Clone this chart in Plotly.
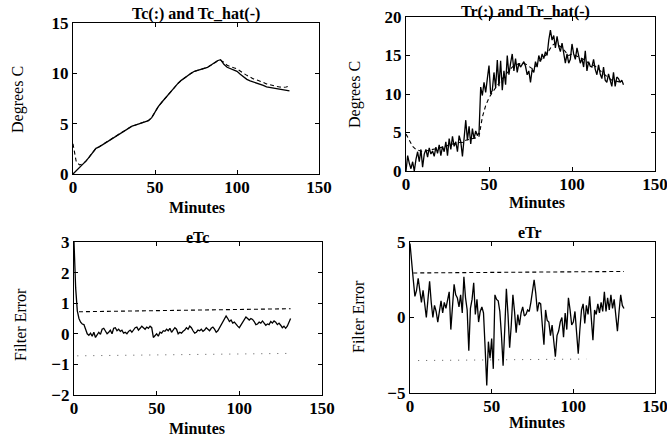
import plotly.graph_objects as go

# ---------------- data ----------------
minutes = list(range(0, 132))          # 1-minute samples
minutes2 = list(range(0, 134, 2))      # 2-minute samples

Tc = [0.0, 0.3, 0.6, 0.9, 1.3, 1.7, 2.1, 2.55, 2.7, 2.9, 3.1, 3.3, 3.5, 3.7, 3.9, 4.1, 4.3,
      4.55, 4.75, 4.85, 4.95, 5.05, 5.15, 5.3, 5.6, 6.2, 6.7, 7.1, 7.5, 7.9, 8.3, 8.7, 9.0,
      9.3, 9.55, 9.75, 10.0, 10.2, 10.3, 10.35, 10.45, 10.6, 10.8, 11.0, 11.25, 11.35, 10.9,
      10.6, 10.45, 10.3, 10.2, 9.9, 9.6, 9.4, 9.25, 9.15, 9.05, 8.95, 8.8, 8.65, 8.6, 8.55,
      8.5, 8.45, 8.4, 8.3, 8.25]
Tc_hat = [3.0, 1.2, 0.9, 1.0, 1.3, 1.75, 2.15, 2.55, 2.72, 2.92, 3.12, 3.32, 3.52, 3.72, 3.92,
          4.12, 4.32, 4.57, 4.77, 4.87, 4.97, 5.07, 5.17, 5.32, 5.6, 6.2, 6.7, 7.1, 7.5, 7.9,
          8.3, 8.7, 9.0, 9.3, 9.55, 9.75, 10.0, 10.2, 10.3, 10.35, 10.45, 10.6, 10.8, 11.0,
          11.2, 11.3, 11.1, 10.8, 10.65, 10.55, 10.45, 10.2, 10.0, 9.8, 9.6, 9.45, 9.35, 9.25,
          9.1, 8.95, 8.85, 8.75, 8.7, 8.65, 8.6, 8.65, 8.75]

Tr = [0.0, 2.0, 1.0, 0.3, 1.2, 0.0, 1.5, 2.5, 1.2, 2.8, 0.5, 2.2, 2.8, 1.8, 3.0, 2.2, 2.6,
      1.9, 3.1, 2.3, 3.4, 2.0, 3.2, 2.5, 3.8, 2.0, 4.2, 2.8, 4.5, 3.2, 3.8, 2.5, 4.6, 3.8,
      1.9, 4.2, 6.6, 4.0, 5.8, 3.5, 5.5, 4.2, 5.2, 4.6, 5.0, 10.9, 9.8, 11.5, 10.2, 12.0,
      13.7, 10.0, 10.5, 12.8, 10.8, 14.4, 11.0, 14.3, 10.5, 13.0, 11.2, 15.0, 12.5, 14.0,
      15.2, 13.0, 14.6, 12.8, 14.0, 13.5, 13.8, 14.2, 13.6, 12.5, 13.0, 11.5, 13.2, 12.8,
      14.2, 13.5, 15.0, 14.2, 15.2, 14.6, 15.5, 15.0, 17.0, 18.3, 17.0, 17.6, 16.0, 17.5,
      16.2, 15.5, 16.6, 15.0, 14.0, 15.2, 14.0, 14.5, 16.5, 15.2, 14.5, 16.0, 14.8, 14.0,
      14.6, 13.5, 15.6, 13.0, 14.2, 13.6, 13.5, 14.5, 13.2, 12.5, 13.8, 12.6, 12.0, 13.5,
      11.8, 11.5, 12.6, 11.8, 11.0, 12.8, 11.0, 12.2, 12.0, 11.5, 11.8, 11.2]
Tr_hat = [4.8, 3.9, 3.2, 2.8, 2.6, 2.5, 2.6, 2.7, 2.8, 2.9, 3.0, 3.1, 3.2, 3.4, 3.5, 3.6, 3.7,
          3.7, 4.0, 4.1, 4.2, 4.3, 4.5, 7.0, 8.5, 9.5, 10.2, 10.8, 11.5, 12.0, 12.5, 13.0,
          13.5, 13.8, 13.9, 14.0, 13.9, 13.6, 13.3, 13.6, 14.2, 14.6, 15.0, 15.6, 16.3, 16.6,
          16.3, 16.0, 15.5, 15.0, 15.2, 15.0, 14.8, 14.5, 14.4, 14.0, 13.8, 13.6, 13.2, 12.8,
          12.4, 12.1, 11.8, 11.7, 11.6, 11.5]

eTc = [3.0, 1.5, 0.75, 0.5, 0.38, 0.32, 0.3, 0.15, 0.0, -0.05, 0.02, -0.08, 0.05, -0.12, -0.05,
       0.05, -0.02, 0.15, 0.18, 0.1, 0.0, 0.05, 0.12, 0.0, 0.18, 0.2, 0.1, 0.15, 0.08, 0.12,
       0.02, 0.05, 0.0, 0.08, 0.12, 0.05, 0.15, 0.2, 0.22, 0.12, 0.18, 0.25, 0.2, 0.15, 0.22,
       0.18, 0.25, 0.2, -0.12, -0.05, 0.0, -0.08, 0.05, 0.02, 0.1, 0.08, 0.15, 0.1, 0.18, 0.05,
       0.12, 0.2, 0.15, 0.0, 0.05, 0.02, 0.08, 0.12, 0.2, 0.15, 0.25, 0.2, 0.1, 0.02, 0.05,
       0.12, 0.1, 0.15, 0.08, 0.12, 0.2, 0.15, 0.1, 0.18, 0.22, 0.15, 0.05, 0.1, 0.2, 0.3, 0.4,
       0.5, 0.58, 0.5, 0.4, 0.45, 0.35, 0.38, 0.3, 0.25, 0.2, 0.3, 0.4, 0.5, 0.55, 0.5, 0.45,
       0.5, 0.47, 0.4, 0.3, 0.32, 0.38, 0.35, 0.42, 0.35, 0.28, 0.32, 0.3, 0.4, 0.35, 0.42,
       0.38, 0.3, 0.35, 0.28, 0.2, 0.25, 0.18, 0.25, 0.35, 0.5]
eTc_upper_t = [3, 131]
eTc_upper = [0.72, 0.82]
eTc_lower_t = [2, 131]
eTc_lower = [-0.72, -0.64]

eTr = [4.9, 3.5, 2.5, 1.4, 1.8, 2.6, 1.6, 1.0, 1.8, 0.8, 0.0, 1.2, 2.4, 1.0, 0.0, 0.8, 0.4,
       -0.3, 0.5, 1.1, 0.3, 1.0, 0.6, 1.3, 1.7, -0.8, 0.8, 2.2, 1.5, 1.3, 0.7, 1.5, 0.3, 2.7,
       1.3, 0.5, -2.2, 0.6, 1.2, 2.3, 0.2, 1.2, -0.3, 0.4, 0.7, 0.3, -2.0, -4.5, -1.6, -2.7,
       -1.4, -3.4, 1.5, 1.2, 1.1, 0.4, -1.2, -3.2, -0.8, 1.9, 0.2, -2.0, -0.5, 1.5, 0.4, -1.0,
       0.2, -0.5, 0.3, 0.7, 0.1, 0.2, 0.5, 0.4, 1.0, 1.7, 2.5, 1.6, 0.4, 1.0, 0.9, -0.5, -1.8,
       0.5, -0.2, -0.3, -1.2, -0.5, -1.8, -2.6, -1.2, -0.9, -0.3, 0.0, -1.3, 0.3, -0.8, 1.3,
       0.5, -0.5, -0.3, 0.4, -1.0, -2.4, -0.8, 0.5, 0.9, -0.4, 0.8, 0.2, 1.4, 0.0, -1.5, 0.5,
       0.2, 0.9, 0.3, 1.0, 0.4, 1.7, 0.4, 1.3, 0.5, 1.5, 0.6, 1.2, 0.3, -0.9, 0.4, 1.5, 0.8,
       0.6]
eTr_upper_t = [2, 131]
eTr_upper = [2.95, 3.05]
eTr_lower_t = [5, 108]
eTr_lower = [-2.85, -2.75]

titles = ["Tc(:) and Tc_hat(-)", "Tr(:) and Tr_hat(-)", "eTc", "eTr"]
xtitle = "Minutes"
ytitles = ["Degrees C", "Degrees C", "Filter Error", "Filter Error"]

# ---------------- figure ----------------
FONT = "Liberation Serif"
fig = go.Figure()
solid = dict(color="black", width=1.3)
dashed = dict(color="black", width=1.1, dash="4px,3px")
dotted = dict(color="#555555", width=1.0, dash="1px,7px")

fig.add_trace(go.Scatter(x=minutes2, y=Tc_hat, mode="lines", line=dashed, xaxis="x", yaxis="y"))
fig.add_trace(go.Scatter(x=minutes2, y=Tc, mode="lines", line=solid, xaxis="x", yaxis="y"))
fig.add_trace(go.Scatter(x=minutes2[:-1], y=Tr_hat, mode="lines", line=dashed, xaxis="x2", yaxis="y2"))
fig.add_trace(go.Scatter(x=minutes, y=Tr, mode="lines", line=solid, xaxis="x2", yaxis="y2"))
fig.add_trace(go.Scatter(x=eTc_upper_t, y=eTc_upper, mode="lines", line=dashed, xaxis="x3", yaxis="y3"))
fig.add_trace(go.Scatter(x=eTc_lower_t, y=eTc_lower, mode="lines", line=dotted, xaxis="x3", yaxis="y3"))
fig.add_trace(go.Scatter(x=minutes, y=eTc, mode="lines", line=solid, xaxis="x3", yaxis="y3"))
fig.add_trace(go.Scatter(x=eTr_upper_t, y=eTr_upper, mode="lines", line=dashed, xaxis="x4", yaxis="y4"))
fig.add_trace(go.Scatter(x=eTr_lower_t, y=eTr_lower, mode="lines", line=dotted, xaxis="x4", yaxis="y4"))
fig.add_trace(go.Scatter(x=minutes, y=eTr, mode="lines", line=solid, xaxis="x4", yaxis="y4"))

W, H = 667, 436
boxes = [  # left, right, top, bottom in window pixels
    (73, 319, 23, 174),
    (406, 655, 17, 171),
    (74, 322, 242, 395),
    (410, 655, 242, 393),
]
title_pos = [(196, 14), (525, 12), (197, 237), (530, 232)]
xtitle_pos = [(197, 207), (537, 202), (197, 428), (537, 422)]
ytitle_pos = [(18, 100), (355, 95), (20, 325), (358, 317)]
yranges = [[0, 15], [0, 20], [-2, 3], [-5, 5]]
ydticks = [5, 5, 1, 5]

tickfont = dict(family=FONT, size=17, color="black", weight="bold")
axis_common = dict(showgrid=False, zeroline=False, showline=True, linecolor="black",
                   linewidth=1.3, mirror="ticks", ticks="inside", ticklen=4,
                   tickcolor="black", tickwidth=1, automargin=False, tickfont=tickfont,
                   ticklabeloverflow="allow")
layout = dict(template="none", width=W, height=H, margin=dict(l=0, r=0, t=0, b=0, pad=0),
              paper_bgcolor="white", plot_bgcolor="white", showlegend=False)
annotations = []


def fx(px):
    return px / W


def fy(py):
    return 1 - py / H


def ann(text, px, py, size=16, angle=0, weight="bold"):
    return dict(text=text, x=fx(px), y=fy(py), xref="paper", yref="paper",
                xanchor="center", yanchor="middle", showarrow=False, textangle=angle,
                font=dict(family=FONT, size=size, color="black", weight=weight))


for i, (l, r, t, b) in enumerate(boxes):
    sfx = "" if i == 0 else str(i + 1)
    layout["xaxis" + sfx] = dict(axis_common, domain=[fx(l), fx(r)], range=[0, 150],
                                 tickvals=[0, 50, 100, 150], anchor="y" + sfx,
                                 ticklabelstandoff=-3)
    layout["yaxis" + sfx] = dict(axis_common, domain=[fy(b), fy(t)], range=yranges[i],
                                 dtick=ydticks[i], anchor="x" + sfx)
    annotations.append(ann(titles[i], *title_pos[i]))
    annotations.append(ann(xtitle, *xtitle_pos[i]))
    annotations.append(ann(ytitles[i], *ytitle_pos[i], angle=-90, weight="normal"))
layout["annotations"] = annotations
fig.update_layout(**layout)

# remove the default 8px page margin so the figure fills the window exactly
fig.write_html("out.html", config={"displayModeBar": False},
               post_script="document.body.style.margin='0px';")
